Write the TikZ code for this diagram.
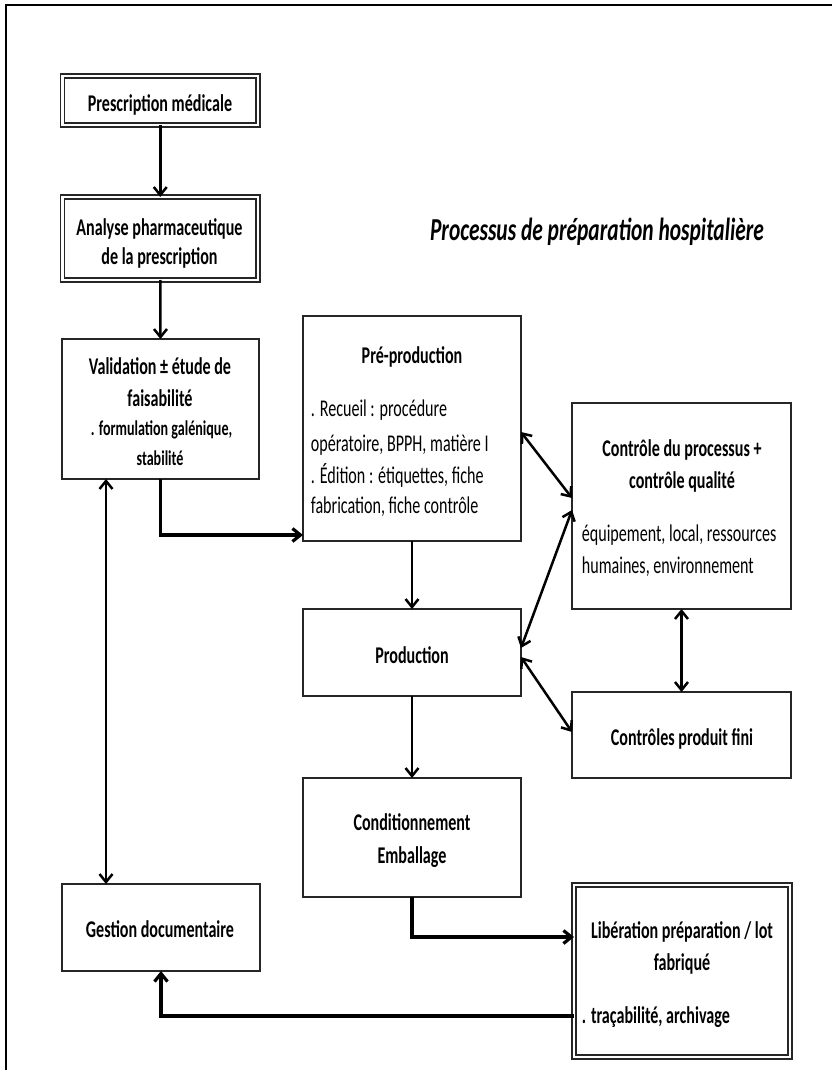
\documentclass[tikz,border=0pt]{standalone}
\usepackage{fontspec}
\setmainfont{Carlito}[FakeStretch=0.67]
\usetikzlibrary{arrows.meta,calc}

\begin{document}
\begin{tikzpicture}[x=1pt,y=-1pt,
  box/.style={draw=black!85, line width=1.9pt, rectangle, inner sep=0pt, outer sep=0pt},
  dbox/.style={box, double, double distance=2.3pt, line width=1.7pt},
  lbl/.style={inner sep=0pt, anchor=base},
  lbll/.style={inner sep=0pt, anchor=base west},
  hd/.style={font=\fontsize{24}{29}\selectfont\bfseries},
  bd/.style={font=\fontsize{24}{29}\selectfont},
  sm/.style={font=\fontsize{21}{25}\selectfont\bfseries},
  ttl/.style={inner sep=0pt, anchor=base, font=\fontsize{32}{38}\selectfont\bfseries\itshape},
  tip/.tip={Straight Barb[length=8pt,width=13pt]},
  link/.style={draw=black, line width=2.5pt, -tip},
  elbow/.style={link, line width=3.2pt},
  both/.style={draw=black, line width=2.5pt, tip-tip},
]
\useasboundingbox (0,0) rectangle (832,1070);

% page frame (top and left edges)
\draw[line width=1.6pt] (832,5) -- (6,5) -- (6,1070);

% boxes
\node[dbox, minimum width=195.5pt, minimum height=48.7pt] (presc) at (160.25,100.35) {};
\node[dbox, minimum width=195.5pt, minimum height=83pt] (analyse) at (160.25,238.5) {};
\node[box, minimum width=197pt, minimum height=140pt] (valid) at (160.5,409) {};
\node[box, minimum width=198pt, minimum height=87pt] (gestion) at (161,927.5) {};
\node[box, minimum width=218pt, minimum height=225pt] (prepro) at (412,428.5) {};
\node[box, minimum width=218pt, minimum height=87pt] (prod) at (412,652.5) {};
\node[box, minimum width=218pt, minimum height=119pt] (cond) at (412,837.5) {};
\node[box, minimum width=219pt, minimum height=206pt] (ctrl) at (681.5,506) {};
\node[box, minimum width=219pt, minimum height=86pt] (pfini) at (681.5,735) {};
\node[dbox, minimum width=216pt, minimum height=172pt] (lib) at (682,971) {};

% title
\node[ttl] (title) at (597,240) {Processus de préparation hospitalière};

% box texts
\node[lbl,hd] (tpresc) at (160,111.7) {Prescription médicale};

\node[lbl,hd] (tana1) at (159.5,235) {Analyse pharmaceutique};
\node[lbl,hd] (tana2) at (159.5,264) {de la prescription};

\node[lbl,hd] (tval1) at (160,374) {Validation ± étude de};
\node[lbl,hd] (tval2) at (160,406) {faisabilité};
\node[lbl,sm] (tval3) at (161.5,435) {. formulation galénique,};
\node[lbl,sm] (tval4) at (160,465) {stabilité};

\node[lbl,hd] (tpre1) at (412,363) {Pré-production};
\node[lbll,bd] (tpre2) at (310.7,416.7) {. Recueil : procédure};
\node[lbll,bd] (tpre3) at (310.7,451.7) {opératoire, BPPH, matière I};
\node[lbll,bd] (tpre4) at (310.7,483) {. Édition : étiquettes, fiche};
\node[lbll,bd] (tpre5) at (310.7,513) {fabrication, fiche contrôle};

\node[lbl,hd] (tctl1) at (682,456) {Contrôle du processus +};
\node[lbl,hd] (tctl2) at (682,488) {contrôle qualité};
\node[lbll,bd] (tctl3) at (581.7,541.7) {équipement, local, ressources};
\node[lbll,bd] (tctl4) at (581.7,573) {humaines, environnement};

\node[lbl,hd] (tprod) at (412,663) {Production};
\node[lbl,hd] (tfini) at (682,745) {Contrôles produit fini};

\node[lbl,hd] (tcond1) at (412,830) {Conditionnement};
\node[lbl,hd] (tcond2) at (412,863) {Emballage};

\node[lbl,hd] (tgest) at (160,937.5) {Gestion documentaire};

\node[lbl,hd] (tlib1) at (682,938) {Libération préparation / lot};
\node[lbl,hd] (tlib2) at (682,970) {fabriqué};
\node[lbll,hd] (tlib3) at (581.7,1023) {. traçabilité, archivage};

% connectors
\draw[link] (presc.south) -- (analyse.north);
\draw[link] (analyse.south) -- (valid.north);
\draw[elbow] (valid.south) |- (prepro.west |- 0,535);
\draw[link] (prepro.south) -- (prod.north);
\draw[link] (prod.south) -- (cond.north);
\draw[elbow] (cond.south) |- (lib.west |- 0,937);
\draw[elbow] (lib.west |- 0,1016) -| (gestion.south);
\draw[both] (valid.south -| 106,0) -- (gestion.north -| 106,0);
\draw[both] ([yshift=-3.5pt]prepro.east) -- ([yshift=8pt]ctrl.west);
\draw[both] ([yshift=-4pt]ctrl.west) -- ([yshift=4.5pt]prod.east);
\draw[both] ([yshift=-4.5pt]prod.east) -- ([yshift=3pt]pfini.west);
\draw[both] (ctrl.south) -- (pfini.north);
\end{tikzpicture}
\end{document}
